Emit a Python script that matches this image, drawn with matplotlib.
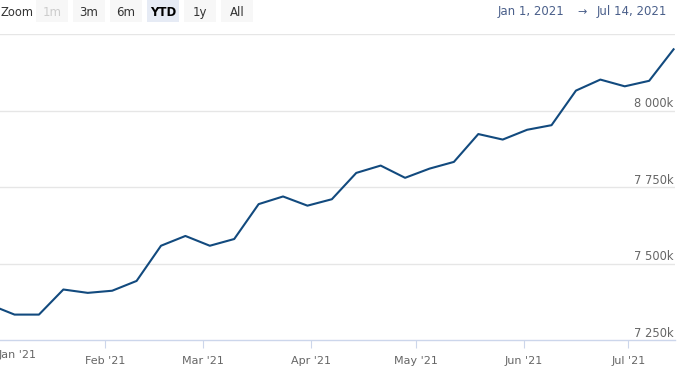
import datetime as dt

import matplotlib
matplotlib.use('Agg')
import matplotlib.pyplot as plt
import matplotlib.dates as mdates
from matplotlib.patches import Rectangle

# Weekly values in thousands (first point sits just left of the visible range)
start_date = dt.datetime(2020, 12, 30)
values = [7366, 7334, 7334, 7416, 7405, 7412, 7444, 7559, 7591, 7559, 7581,
          7695, 7720, 7690, 7711, 7797, 7821, 7781, 7811, 7833, 7924, 7906,
          7938, 7953, 8066, 8102, 8080, 8098, 8201]
dates = [start_date + dt.timedelta(days=7 * i) for i in range(len(values))]

y_ticks = [7250, 7500, 7750, 8000, 8250]
y_labels = ['7 250k', '7 500k', '7 750k', '8 000k']
month_ticks = [dt.datetime(2021, m, 1) for m in range(2, 8)]
month_labels = ["Feb '21", "Mar '21", "Apr '21", "May '21", "Jun '21", "Jul '21"]
buttons = ['1m', '3m', '6m', 'YTD', '1y', 'All']

W, H = 695, 370
fig = plt.figure(figsize=(W / 100, H / 100), dpi=100)
plt.rcParams['font.family'] = ['DejaVu Sans']

# plot area in pixel coords: x 0..675, y 34..340 (from top)
px_day = 3.487
left_px, right_px, top_px, bottom_px = 0, 675, 34.3, 340.3
ax = fig.add_axes([left_px / W, (H - bottom_px) / H,
                   (right_px - left_px) / W, (bottom_px - top_px) / H])
x0 = dt.datetime(2021, 1, 1) + dt.timedelta(days=2.9 / px_day)
x1 = x0 + dt.timedelta(days=(right_px - left_px) / px_day)
ax.set_xlim(x0, x1)
ax.set_ylim(y_ticks[0], y_ticks[-1])

for yv in y_ticks[1:]:
    ax.axhline(yv, color='#e6e6e6', lw=1, zorder=1)
ax.plot(dates, values, color='#124a7e', lw=1.5, zorder=3, solid_joinstyle='round')

for s in ['top', 'right', 'left']:
    ax.spines[s].set_visible(False)
ax.spines['bottom'].set_color('#ccd6eb')
ax.spines['bottom'].set_linewidth(1)

ax.set_yticks([])
ax.set_xticks(month_ticks)
ax.set_xticklabels(month_labels, fontsize=8, color='#666666')
ax.tick_params(axis='x', length=6, width=0.8, color='#ccd6eb', pad=5)

# y labels sit just above the gridline, right aligned
for yv, lab in zip(y_ticks[:-1], y_labels):
    ax.annotate(lab, xy=(1, yv), xycoords=('axes fraction', 'data'),
                xytext=(-1, 0.5), textcoords='offset points',
                ha='right', va='bottom', fontsize=8.3, color='#666666')

# Jan label shifted into view
fig.text(-1 / W, 1 - 355 / H, "Jan '21", ha='left', va='center', fontsize=8, color='#666666')

# range selector header
fig.text(0.5 / W, 1 - 12.5 / H, 'Zoom', ha='left', va='center', fontsize=8.3, color='#333333')
bx = [36, 73, 110, 147, 184, 221]
for b, lab in zip(bx, buttons):
    bg = '#e6ebf5' if lab == 'YTD' else '#f7f7f7'
    fig.patches.append(Rectangle((b / W, 1 - 22 / H), 32 / W, 22 / H,
                                 transform=fig.transFigure, facecolor=bg,
                                 edgecolor='none', zorder=0))
    col = '#cccccc' if lab == '1m' else ('#000000' if lab == 'YTD' else '#333333')
    fig.text((b + 16) / W, 1 - 12.5 / H, lab, ha='center', va='center', fontsize=8.5,
             color=col, fontweight='bold' if lab == 'YTD' else 'normal')

fig.text(498 / W, 1 - 12 / H, 'Jan 1, 2021', ha='left', va='center', fontsize=8.5, color='#4a5f8a')
fig.text(582 / W, 1 - 12 / H, '\u2192', ha='center', va='center', fontsize=8, color='#4a5f8a')
fig.text(667 / W, 1 - 12 / H, 'Jul 14, 2021', ha='right', va='center', fontsize=8.5, color='#4a5f8a')

fig.savefig('out.png', dpi=100)
